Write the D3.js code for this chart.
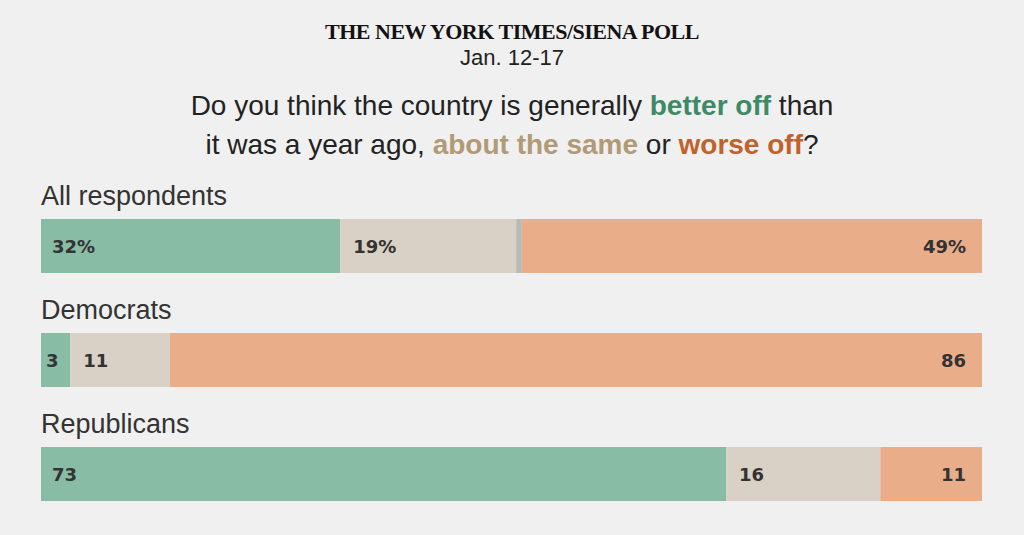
<!DOCTYPE html>
<html>
<head>
<meta charset="utf-8">
<style>
  body { margin: 0; background: #f0f0f0; }
  svg { display: block; }
</style>
</head>
<body>
<svg width="1024" height="535"></svg>
<script src="https://d3js.org/d3.v7.min.js"></script>
<script>
// poll results, share of respondents (unrounded)
const groups = ["All respondents", "Democrats", "Republicans"];
const betterOff = [31.8, 3.1, 72.8];
const sameAsBefore = [18.7, 10.6, 16.4];
const dontKnow = [0.6, 0, 0];
const worseOff = [48.9, 86.3, 10.8];
const betterLabels = ["32%", "3", "73"];
const sameLabels = ["19%", "11", "16"];
const worseLabels = ["49%", "86", "11"];

const svg = d3.select("svg");
const width = 1024;
const margin = { left: 41, right: 42 };
const sans = "'Liberation Sans', Arial, sans-serif";

svg.append("rect").attr("width", width).attr("height", 535).attr("fill", "#f0f0f0");

// headings
svg.append("text").text("THE NEW YORK TIMES/SIENA POLL")
  .attr("x", width / 2).attr("y", 39)
  .attr("text-anchor", "middle")
  .attr("font-family", "'Liberation Serif', 'DejaVu Serif', serif")
  .attr("font-weight", "bold")
  .attr("font-size", "22px")
  .attr("letter-spacing", "-0.5px")
  .attr("fill", "#121212");

svg.append("text").text("Jan. 12-17")
  .attr("x", width / 2).attr("y", 65)
  .attr("text-anchor", "middle")
  .attr("font-family", sans)
  .attr("font-size", "22px")
  .attr("fill", "#222");

const q1 = svg.append("text")
  .attr("x", width / 2).attr("y", 115)
  .attr("text-anchor", "middle")
  .attr("font-family", sans)
  .attr("font-size", "28px")
  .attr("fill", "#222");
q1.append("tspan").text("Do you think the country is generally ");
q1.append("tspan").text("better off").attr("font-weight", "bold").attr("fill", "#3e8a66");
q1.append("tspan").text(" than");

const q2 = svg.append("text")
  .attr("x", width / 2).attr("y", 154)
  .attr("text-anchor", "middle")
  .attr("font-family", sans)
  .attr("font-size", "28px")
  .attr("fill", "#222");
q2.append("tspan").text("it was a year ago, ");
q2.append("tspan").text("about the same").attr("font-weight", "bold").attr("fill", "#b09a77");
q2.append("tspan").text(" or ");
q2.append("tspan").text("worse off").attr("font-weight", "bold").attr("fill", "#c0622b");
q2.append("tspan").text("?");

// scales
const x = d3.scaleLinear().domain([0, 100]).range([margin.left, width - margin.right]);
const y = d3.scaleBand().domain(groups).range([191, 533]).paddingInner(0);
const barTop = g => y(g) + 28;
const barH = 54;

const segNames = ["better", "same", "dk", "worse"];
const segColors = { better: "#88bca5", same: "#d9d1c5", dk: "#b8b9b9", worse: "#e9ae89" };

const table = groups.map((g, i) => {
  const vals = [betterOff[i], sameAsBefore[i], dontKnow[i], worseOff[i]];
  let acc = 0;
  return {
    group: g,
    segs: vals.map((v, j) => {
      const s = { key: segNames[j], x0: acc, x1: acc + v };
      acc += v;
      return s;
    }),
    labels: [betterLabels[i], sameLabels[i], worseLabels[i]]
  };
});

const rows = svg.selectAll("g.row").data(table).join("g").attr("class", "row");

rows.append("text")
  .text(d => d.group)
  .attr("x", margin.left)
  .attr("y", d => y(d.group) + 14)
  .attr("font-family", sans)
  .attr("font-size", "27px")
  .attr("fill", "#333");

rows.selectAll("rect.seg").data(d => d.segs.map(s => Object.assign({ group: d.group }, s)))
  .join("rect")
  .attr("class", "seg")
  .attr("x", s => x(s.x0))
  .attr("y", s => barTop(s.group))
  .attr("width", s => x(s.x1) - x(s.x0))
  .attr("height", barH)
  .attr("fill", s => segColors[s.key]);

const labelFont = "'DejaVu Sans', Arial, sans-serif";
const labelY = d => barTop(d.group) + barH / 2 + 7;
// better off label, left aligned
rows.append("text")
  .text(d => d.labels[0])
  .attr("x", d => x(d.segs[0].x0) + (d.segs[0].x1 - d.segs[0].x0 < 5 ? 5 : 11))
  .attr("y", labelY)
  .attr("font-family", labelFont).attr("font-weight", "bold")
  .attr("font-size", "18px").attr("fill", "#333");
// same label
rows.append("text")
  .text(d => d.labels[1])
  .attr("x", d => x(d.segs[1].x0) + 13)
  .attr("y", labelY)
  .attr("font-family", labelFont).attr("font-weight", "bold")
  .attr("font-size", "18px").attr("fill", "#333");
// worse off label, right aligned
rows.append("text")
  .text(d => d.labels[2])
  .attr("x", d => x(d.segs[3].x1) - 16)
  .attr("y", labelY)
  .attr("text-anchor", "end")
  .attr("font-family", labelFont).attr("font-weight", "bold")
  .attr("font-size", "18px").attr("fill", "#333");
</script>
</body>
</html>
